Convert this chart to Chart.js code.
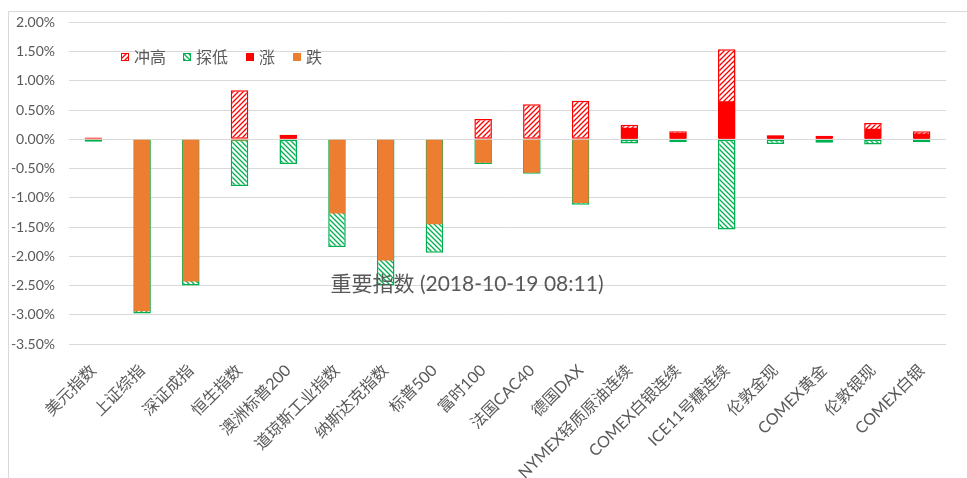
<!DOCTYPE html>
<html>
<head>
<meta charset="utf-8">
<script src="https://cdn.jsdelivr.net/npm/chart.js@4/dist/chart.umd.min.js"></script>
<style>
  body { margin: 0; background: #fff; }
  #wrap { width: 967px; height: 478px; position: relative; }
</style>
</head>
<body>
<div id="wrap"><canvas id="chart" width="967" height="478"></canvas></div>
<script>
// categories and values (in %)
const categories = ['美元指数', '上证综指', '深证成指', '恒生指数', '澳洲标普200', '道琼斯工业指数',
  '纳斯达克指数', '标普500', '富时100', '法国CAC40', '德国DAX', 'NYMEX轻质原油连续',
  'COMEX白银连续', 'ICE11号糖连续', '伦敦金现', 'COMEX黄金', '伦敦银现', 'COMEX白银'];
const highs   = [0.03, 0, 0, 0.84, 0.08, 0, 0, 0, 0.35, 0.60, 0.66, 0.25, 0.14, 1.54, 0.07, 0.06, 0.28, 0.14];
const lows    = [-0.04, -2.98, -2.50, -0.80, -0.42, -1.84, -2.50, -1.94, -0.42, -0.59, -1.12, -0.07, -0.05, -1.54, -0.08, -0.06, -0.09, -0.05];
const changes = [-0.01, -2.94, -2.43, -0.02, 0.07, -1.27, -2.07, -1.45, -0.40, -0.57, -1.09, 0.20, 0.11, 0.65, 0.06, 0.04, 0.18, 0.10];
const seriesNames = ['冲高', '探低', '涨', '跌'];
const chartTitle = '重要指数 (2018-10-19 08:11)';

const RED = '#ff0000';
const GREEN = '#00b050';
const ORANGE = '#ed7d31';
const TEXT = '#595959';
const GRID = '#d9d9d9';

// hatch pattern: dir 1 = "/" , dir -1 = "\"
function hatch(color, dir) {
  const s = 5;
  const c = document.createElement('canvas');
  c.width = s; c.height = s;
  const g = c.getContext('2d');
  g.fillStyle = '#fff';
  g.fillRect(0, 0, s, s);
  g.strokeStyle = color;
  g.lineWidth = 1.3;
  g.beginPath();
  if (dir > 0) {
    g.moveTo(-1, s + 1); g.lineTo(s + 1, -1);
    g.moveTo(-1, 1); g.lineTo(1, -1);
    g.moveTo(s - 1, s + 1); g.lineTo(s + 1, s - 1);
  } else {
    g.moveTo(-1, -1); g.lineTo(s + 1, s + 1);
    g.moveTo(s - 1, -1); g.lineTo(s + 1, 1);
    g.moveTo(-1, s - 1); g.lineTo(1, s + 1);
  }
  g.stroke();
  return g.createPattern(c, 'repeat');
}

const redHatch = hatch(RED, 1);
const greenHatch = hatch(GREEN, -1);

const rises = changes.map(v => v > 0 ? v : 0);
const falls = changes.map(v => v < 0 ? v : 0);

// frame + floating legend + title drawn on the canvas
const extras = {
  id: 'extras',
  beforeDraw(chart) {
    const ctx = chart.ctx;
    ctx.save();
    ctx.strokeStyle = GRID;
    ctx.lineWidth = 1;
    ctx.beginPath();
    ctx.moveTo(8.5, 478);
    ctx.lineTo(8.5, 11.5);
    ctx.lineTo(967, 11.5);
    ctx.stroke();
    ctx.restore();
  },
  afterDraw(chart) {
    const ctx = chart.ctx;
    ctx.save();
    // legend
    const xs = [121, 183, 246, 293];
    const y = 57;
    chart.data.datasets.forEach((ds, i) => {
      ctx.fillStyle = ds.backgroundColor;
      ctx.fillRect(xs[i], y - 4, 8, 8);
      if (ds.borderWidth) {
        ctx.strokeStyle = ds.borderColor;
        ctx.lineWidth = 1;
        ctx.strokeRect(xs[i] + 0.5, y - 3.5, 7, 7);
      }
      ctx.fillStyle = TEXT;
      ctx.font = '16px "Noto Sans CJK SC"';
      ctx.textBaseline = 'middle';
      ctx.textAlign = 'left';
      ctx.fillText(ds.label, xs[i] + 13, y);
    });
    // title
    ctx.font = '21px Lato, "Noto Sans CJK SC"';
    ctx.fillStyle = TEXT;
    ctx.textAlign = 'center';
    ctx.textBaseline = 'middle';
    ctx.fillText(chartTitle, 467, 284);
    ctx.restore();
  }
};

new Chart(document.getElementById('chart'), {
  type: 'bar',
  data: {
    labels: categories,
    datasets: [
      { label: seriesNames[0], data: highs, backgroundColor: redHatch, borderColor: RED,
        borderWidth: 1.5, borderSkipped: false, barPercentage: 0.36, order: 1 },
      { label: seriesNames[1], data: lows, backgroundColor: greenHatch, borderColor: GREEN,
        borderWidth: 1.5, borderSkipped: false, barPercentage: 0.36, order: 1 },
      { label: seriesNames[2], data: rises, backgroundColor: RED, borderWidth: 0,
        barPercentage: 0.33, order: 0 },
      { label: seriesNames[3], data: falls, backgroundColor: ORANGE, borderWidth: 0,
        barPercentage: 0.33, order: 0 }
    ]
  },
  options: {
    responsive: false,
    animation: false,
    layout: { padding: { top: 21, right: 21, left: 0, bottom: 0 } },
    datasets: { bar: { categoryPercentage: 1 } },
    plugins: {
      legend: { display: false },
      tooltip: { enabled: false }
    },
    scales: {
      x: {
        stacked: true,
        grid: { display: false },
        border: { display: false },
        afterFit: s => { s.height = 134; },
        ticks: {
          autoSkip: false,
          maxRotation: 45,
          minRotation: 45,
          padding: 9,
          color: TEXT,
          font: { family: 'Lato, "Noto Sans CJK SC"', size: 16 }
        }
      },
      y: {
        stacked: false,
        min: -3.5,
        max: 2,
        afterFit: s => { s.width = 69; },
        grid: { color: GRID, drawTicks: false },
        border: { display: false },
        ticks: {
          stepSize: 0.5,
          padding: 14,
          color: TEXT,
          font: { family: 'Lato', size: 14 },
          callback: v => v.toFixed(2) + '%'
        }
      }
    }
  },
  plugins: [extras]
});
</script>
</body>
</html>
